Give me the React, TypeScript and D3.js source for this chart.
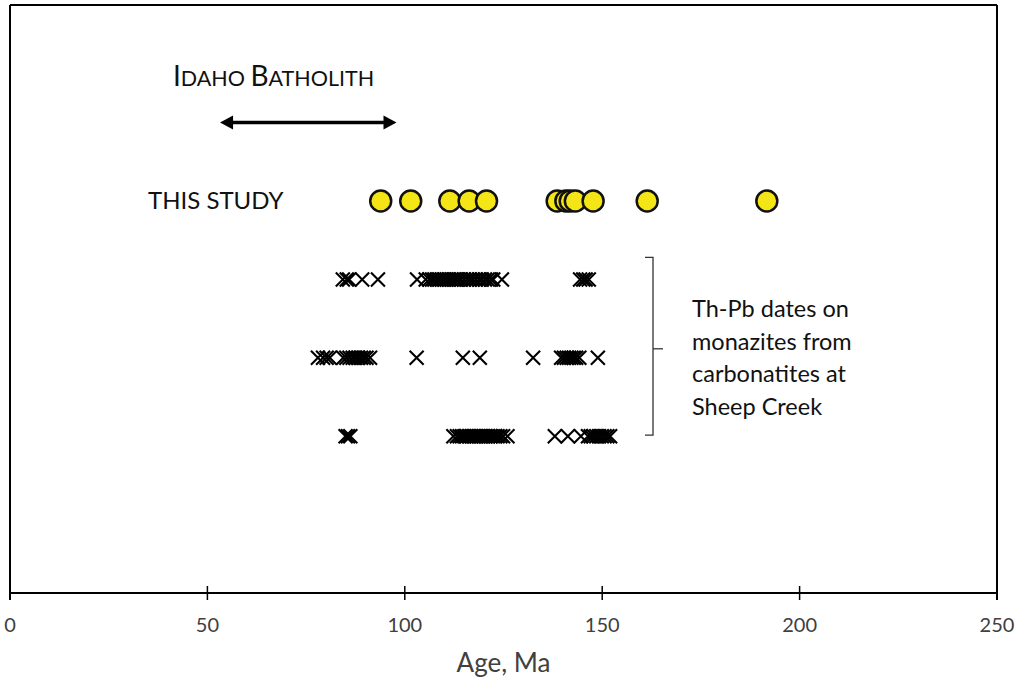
import React from "react";
import * as d3 from "d3";

const thisStudy = [93.9, 101.5, 111.4, 116.3, 120.7, 138.6, 140.8, 141.9, 143.2, 147.7, 161.4, 191.7];
const monaziteRow1 = [84.3, 85.3, 85.9, 89.2, 93.2, 103.1, 105.3, 106.2, 106.9, 107.5, 108.1, 108.8, 109.4, 110.0, 110.6, 111.2, 111.8, 112.4, 113.0, 113.6, 114.2, 115.0, 115.8, 116.5, 117.2, 118.0, 118.8, 119.5, 120.3, 121.0, 121.8, 122.4, 124.6, 144.4, 145.2, 145.8, 146.6];
const monaziteRow2 = [78.0, 79.3, 80.2, 81.0, 84.4, 85.2, 86.0, 86.8, 87.5, 88.2, 88.9, 89.6, 90.3, 91.2, 103.0, 114.7, 119.0, 132.5, 139.6, 140.3, 141.0, 141.6, 142.2, 142.8, 143.4, 144.2, 148.9];
const monaziteRow3 = [85.0, 85.6, 86.2, 112.3, 113.2, 113.9, 114.5, 115.1, 115.7, 116.3, 116.9, 117.5, 118.1, 118.7, 119.3, 119.9, 120.5, 121.1, 121.7, 122.3, 122.9, 123.5, 124.2, 124.9, 126.0, 138.0, 141.3, 144.6, 146.4, 147.1, 147.8, 148.5, 149.2, 149.9, 150.6, 151.3, 152.0];
const batholithRange = [53.2, 97.9];
const xTicks = [0, 50, 100, 150, 200, 250];
const noteLines = ["Th-Pb dates on", "monazites from", "carbonatites at", "Sheep Creek"];

const W = 1018;
const H = 679;
const FONT = "Lato, 'Open Sans', sans-serif";

export default function App() {
  const x = d3.scaleLinear().domain([0, 250]).range([10, 997]);
  const y = d3.scaleLinear().domain([0, 7.5]).range([593, 5]);
  const rows = [
    { v: 4, data: monaziteRow1 },
    { v: 3, data: monaziteRow2 },
    { v: 2, data: monaziteRow3 },
  ];
  const cs = 7;
  const arrowY = y(6);
  const x0 = x(batholithRange[0]);
  const x1 = x(batholithRange[1]);
  const bx = 653;
  const bTop = y(4) - 22;
  const bBot = y(2) - 1;
  const bMid = y(3) - 9;
  return (
    <svg width={W} height={H} style={{ position: "absolute", left: 0, top: 0, background: "#fff" }}>
      <rect x={0} y={0} width={W} height={H} fill="#fff" />
      {/* frame */}
      <line x1={x(0)} x2={x(250)} y1={y(7.5)} y2={y(7.5)} stroke="#000" strokeWidth={2} />
      <line x1={x(0)} x2={x(0)} y1={y(7.5)} y2={y(0) + 7} stroke="#000" strokeWidth={2} />
      <line x1={x(250)} x2={x(250)} y1={y(7.5)} y2={y(0) + 7} stroke="#000" strokeWidth={2} />
      {/* x axis */}
      <line x1={x(0)} x2={x(250)} y1={y(0)} y2={y(0)} stroke="#000" strokeWidth={2} />
      {xTicks.map((t) => (
        <g key={t}>
          <line x1={x(t)} x2={x(t)} y1={y(0) - 7} y2={y(0) + 7} stroke="#000" strokeWidth={1.5} />
          <text x={x(t)} y={632} textAnchor="middle" fontFamily={FONT} fontSize={20} fill="#404040">{t}</text>
        </g>
      ))}
      <text x={(x(0) + x(250)) / 2} y={672} textAnchor="middle" fontFamily={FONT} fontSize={26} fill="#404040">Age, Ma</text>

      {/* Idaho batholith */}
      <text x={173} y={86} fontFamily={FONT} fill="#111">
        <tspan fontSize={28}>I</tspan>
        <tspan fontSize={21.5}>DAHO </tspan>
        <tspan fontSize={28}>B</tspan>
        <tspan fontSize={21.5}>ATHOLITH</tspan>
      </text>
      <line x1={x0 + 8} x2={x1 - 8} y1={arrowY} y2={arrowY} stroke="#000" strokeWidth={3.5} />
      <path d={`M${x0},${arrowY} L${x0 + 13},${arrowY - 7} L${x0 + 13},${arrowY + 7} Z`} fill="#000" />
      <path d={`M${x1},${arrowY} L${x1 - 13},${arrowY - 7} L${x1 - 13},${arrowY + 7} Z`} fill="#000" />

      {/* this study */}
      <text x={148} y={y(5) + 8} fontFamily={FONT} fontSize={24} fill="#111">THIS STUDY</text>
      {thisStudy.map((d, i) => (
        <circle key={i} cx={x(d)} cy={y(5)} r={10.5} fill="#f4e517" stroke="#111" strokeWidth={2.5} />
      ))}

      {/* monazite crosses */}
      {rows.map((r, ri) => (
        <g key={ri}>
          {r.data.map((d, i) => (
            <path
              key={i}
              d={`M${x(d) - cs},${y(r.v) - cs}L${x(d) + cs},${y(r.v) + cs}M${x(d) - cs},${y(r.v) + cs}L${x(d) + cs},${y(r.v) - cs}`}
              stroke="#000"
              strokeWidth={2.1}
              fill="none"
            />
          ))}
        </g>
      ))}

      {/* bracket */}
      <path d={`M${bx - 8},${bTop} L${bx},${bTop} L${bx},${bBot} L${bx - 8},${bBot}`} fill="none" stroke="#333" strokeWidth={1.3} />
      <line x1={bx} x2={bx + 10} y1={bMid} y2={bMid} stroke="#333" strokeWidth={1.3} />
      {noteLines.map((l, i) => (
        <text key={i} x={692} y={317 + i * 32.5} fontFamily={FONT} fontSize={23.5} fill="#111">{l}</text>
      ))}
    </svg>
  );
}
